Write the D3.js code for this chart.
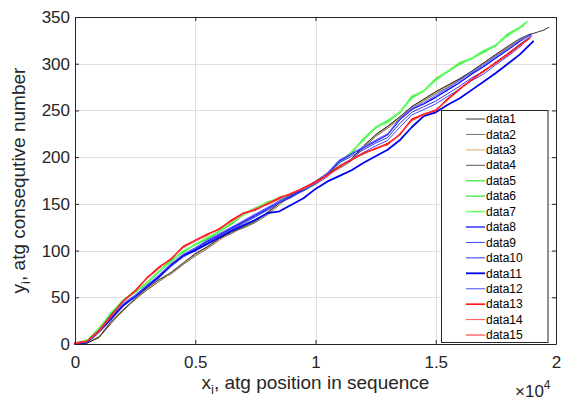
<!DOCTYPE html>
<html>
<head>
<meta charset="utf-8">
<script src="https://cdn.jsdelivr.net/npm/d3@7"></script>
<style>
  html, body { margin: 0; padding: 0; background: #fff; }
  svg { display: block; font-family: "Liberation Sans", Arial, Helvetica, sans-serif; }
</style>
</head>
<body>
<svg id="chart" width="561" height="400"></svg>
<script>
// Sample positions along the sequence (shared by all series); the last
// point of every series sits at its own end position.
const positions = [0, 500, 1000, 1500, 2000, 2500, 3000, 3500, 4000, 4500,
  5000, 5500, 6000, 6500, 7000, 7500, 8000, 8500, 9000, 9500,
  10000, 10500, 11000, 11500, 12000, 12500, 13000, 13500, 14000, 14500,
  15000, 15500, 16000, 16500, 17000, 17500, 18000, 18500, 19000, 19500];

const endPositions = [19700, 18850, 18900, 18950, 18750, 18700, 18800,
  18950, 18900, 19000, 19050, 18900, 18900, 18950, 18850];

const seriesNames = ["data1", "data2", "data3", "data4", "data5", "data6", "data7",
  "data8", "data9", "data10", "data11", "data12", "data13", "data14", "data15"];

// Consecutive atg number at each sampled position
const data1 = [0,1,7,22,36,48,58,67,76,86, 96,104,113,118,126,132,140,151,157,166,
  174,183,190,198,212,224,233,243,254,262, 270,277,284,292,301,310,318,326,332,336, 339];
const data2 = [0,1,8,24,37,47,60,69,75,85, 94,102,111,120,124,130,138,149,159,164,
  172,181,188,196,210,222,231,241,252,260, 268,275,283,290,299,308,317,325, 330];
const data3 = [0,2,8,23,35,48,59,67,76,86, 95,103,112,119,126,132,139,150,158,165,
  173,182,190,197,211,223,232,242,253,261, 269,276,282,291,300,309,318,326, 331];
const data4 = [0,1,7,24,36,49,60,69,77,87, 97,104,113,120,125,131,141,151,158,166,
  174,183,189,198,212,224,233,243,254,262, 270,277,284,292,301,310,319,327, 332];
const data5 = [1,3,17,33,47,56,66,78,90,98, 107,113,121,129,139,145,152,156,161,165,
  172,182,195,205,220,232,239,248,265,271, 284,292,301,306,314,320,332,339, 344];
const data6 = [0,3,15,32,46,55,65,77,89,99, 106,112,120,128,138,144,151,155,160,164,
  171,181,194,204,219,231,238,247,264,270, 283,291,300,305,313,319,331,338, 342];
const data7 = [1,4,16,34,46,57,65,78,88,100, 106,114,120,130,138,146,151,157,160,166,
  171,183,194,206,218,232,237,248,263,271, 282,292,299,306,312,320,330,339, 345];
const data8 = [1,2,14,31,43,52,63,73,85,95, 102,110,117,124,131,138,145,153,159,166,
  173,182,196,203,210,217,224,240,251,257, 264,272,280,289,297,306,315,324, 331];
const data9 = [0,2,13,29,42,50,61,71,83,93, 100,108,115,122,129,136,143,151,157,164,
  171,179,191,198,205,212,218,232,245,251, 257,265,273,282,289,299,308,318, 328];
const data10 = [1,3,15,30,41,51,62,72,84,94, 101,109,116,123,130,137,144,152,158,165,
  172,181,194,201,208,215,221,236,248,254, 260,268,276,285,292,302,311,321, 330];
const data11 = [0,2,13,27,41,51,62,72,85,95, 100,107,114,121,127,133,140,142,149,156,
  166,174,180,186,194,201,208,218,232,244, 248,256,263,272,281,290,300,310, 324];
const data12 = [1,2,14,30,43,52,63,74,86,96, 103,111,118,125,132,139,146,153,160,167,
  174,183,197,204,211,218,225,241,252,258, 266,274,282,291,299,308,316,325, 330];
const data13 = [1,3,14,30,46,57,71,82,91,104, 111,117,123,132,140,144,150,156,161,167,
  173,181,190,197,204,209,214,224,240,246, 250,262,273,283,292,301,310,320, 327];
const data14 = [1,3,13,29,45,56,70,81,92,103, 110,116,124,131,139,145,149,155,162,166,
  172,180,189,198,203,210,213,225,239,245, 251,261,272,284,291,302,309,319, 328];
const data15 = [0,3,15,31,46,57,71,83,91,105, 111,118,123,133,140,143,150,157,161,167,
  174,181,191,197,205,209,215,224,241,246, 250,263,273,283,293,301,311,320, 326];

const xTicks = [0, 5000, 10000, 15000, 20000];
const yTicks = [0, 50, 100, 150, 200, 250, 300, 350];

const allSeries = [data1, data2, data3, data4, data5, data6, data7, data8,
  data9, data10, data11, data12, data13, data14, data15];

const seriesColors = ["#000000", "#4a4a4a", "#d99a40", "#2e2e2e",
  "#55f055", "#10dd10", "#66ff66",
  "#0000ff", "#4444ff", "#3030e8", "#0000f0", "#6666ff",
  "#ff0000", "#ff5555", "#ff2222"];
const seriesWidths = [0.8, 0.8, 0.8, 0.8, 1.5, 1.0, 1.5,
  1.2, 1.0, 1.0, 1.8, 1.2, 1.5, 1.0, 1.0];

const svg = d3.select("#chart");
const plotLeft = 75, plotRight = 556, plotTop = 17, plotBottom = 344;
const axisColor = "#262626";

const x = d3.scaleLinear().domain([0, 20000]).range([plotLeft, plotRight]);
const y = d3.scaleLinear().domain([0, 350]).range([plotBottom, plotTop]);

// grid
const grid = svg.append("g").attr("stroke", "#e0e0e0").attr("stroke-width", 1);
grid.selectAll("line.gx").data(xTicks.slice(1, -1)).join("line")
  .attr("x1", d => Math.round(x(d)) + 0.5).attr("x2", d => Math.round(x(d)) + 0.5)
  .attr("y1", plotTop).attr("y2", plotBottom);
grid.selectAll("line.gy").data(yTicks.slice(1, -1)).join("line")
  .attr("y1", d => Math.round(y(d)) + 0.5).attr("y2", d => Math.round(y(d)) + 0.5)
  .attr("x1", plotLeft).attr("x2", plotRight);

// series lines
const line = d3.line().x(d => x(d[0])).y(d => y(d[1]));
const linesG = svg.append("g").attr("fill", "none")
  .attr("stroke-linejoin", "round").attr("stroke-linecap", "round");
allSeries.forEach((vals, k) => {
  const pts = vals.map((v, i) => [i < vals.length - 1 ? positions[i] : endPositions[k], v]);
  linesG.append("path").datum(pts)
    .attr("d", line)
    .attr("stroke", seriesColors[k])
    .attr("stroke-width", seriesWidths[k]);
});

// axes (inward ticks, box on all sides)
const fmtX = d => d3.format("~g")(d / 10000);
const axB = svg.append("g").attr("transform", `translate(0,${plotBottom})`)
  .call(d3.axisBottom(x).tickValues(xTicks).tickFormat(fmtX)
    .tickSizeInner(-4).tickSizeOuter(0).tickPadding(12));
const axT = svg.append("g").attr("transform", `translate(0,${plotTop})`)
  .call(d3.axisTop(x).tickValues(xTicks).tickFormat("")
    .tickSizeInner(-4).tickSizeOuter(0));
const axL = svg.append("g").attr("transform", `translate(${plotLeft},0)`)
  .call(d3.axisLeft(y).tickValues(yTicks)
    .tickSizeInner(-4).tickSizeOuter(0).tickPadding(5));
const axR = svg.append("g").attr("transform", `translate(${plotRight},0)`)
  .call(d3.axisRight(y).tickValues(yTicks).tickFormat("")
    .tickSizeInner(-4).tickSizeOuter(0));

[axB, axT, axL, axR].forEach(g => {
  g.selectAll(".domain").attr("stroke", axisColor).attr("stroke-width", 1);
  g.selectAll(".tick line").attr("stroke", axisColor);
  g.selectAll("text").attr("fill", axisColor)
    .style("font-size", "17px").style("font-family", '"Liberation Sans", Arial, sans-serif');
});

// axis labels
const xl = svg.append("text")
  .attr("x", (plotLeft + plotRight) / 2).attr("y", 389)
  .attr("text-anchor", "middle").attr("fill", axisColor)
  .style("font-size", "19px");
xl.append("tspan").text("x");
xl.append("tspan").text("i").attr("dy", 5).style("font-size", "13px");
xl.append("tspan").text(", atg position in sequence").attr("dy", -5);

const yl = svg.append("text")
  .attr("transform", `translate(25,${(plotTop + plotBottom) / 2}) rotate(-90)`)
  .attr("text-anchor", "middle").attr("fill", axisColor)
  .style("font-size", "19px");
yl.append("tspan").text("y");
yl.append("tspan").text("i").attr("dy", 5).style("font-size", "13px");
yl.append("tspan").text(", atg consequtive number").attr("dy", -5);

// exponent note
const ex = svg.append("text").attr("x", 515).attr("y", 397)
  .attr("fill", axisColor).style("font-size", "17px");
ex.append("tspan").text("\u00d710");
ex.append("tspan").text("4").attr("dy", -8).style("font-size", "12px");

// legend
const lg = svg.append("g");
lg.append("rect").attr("x", 441.5).attr("y", 110.5).attr("width", 106.5).attr("height", 232)
  .attr("fill", "#fff").attr("stroke", axisColor).attr("stroke-width", 1);
seriesNames.forEach((name, k) => {
  const cy = 119 + k * 15.43;
  lg.append("line").attr("x1", 466).attr("x2", 485).attr("y1", cy).attr("y2", cy)
    .attr("stroke", seriesColors[k]).attr("stroke-width", seriesWidths[k]);
  lg.append("text").attr("x", 486).attr("y", cy).attr("dy", "0.35em")
    .attr("fill", "#000").style("font-size", "12px").text(name);
});
</script>
</body>
</html>
